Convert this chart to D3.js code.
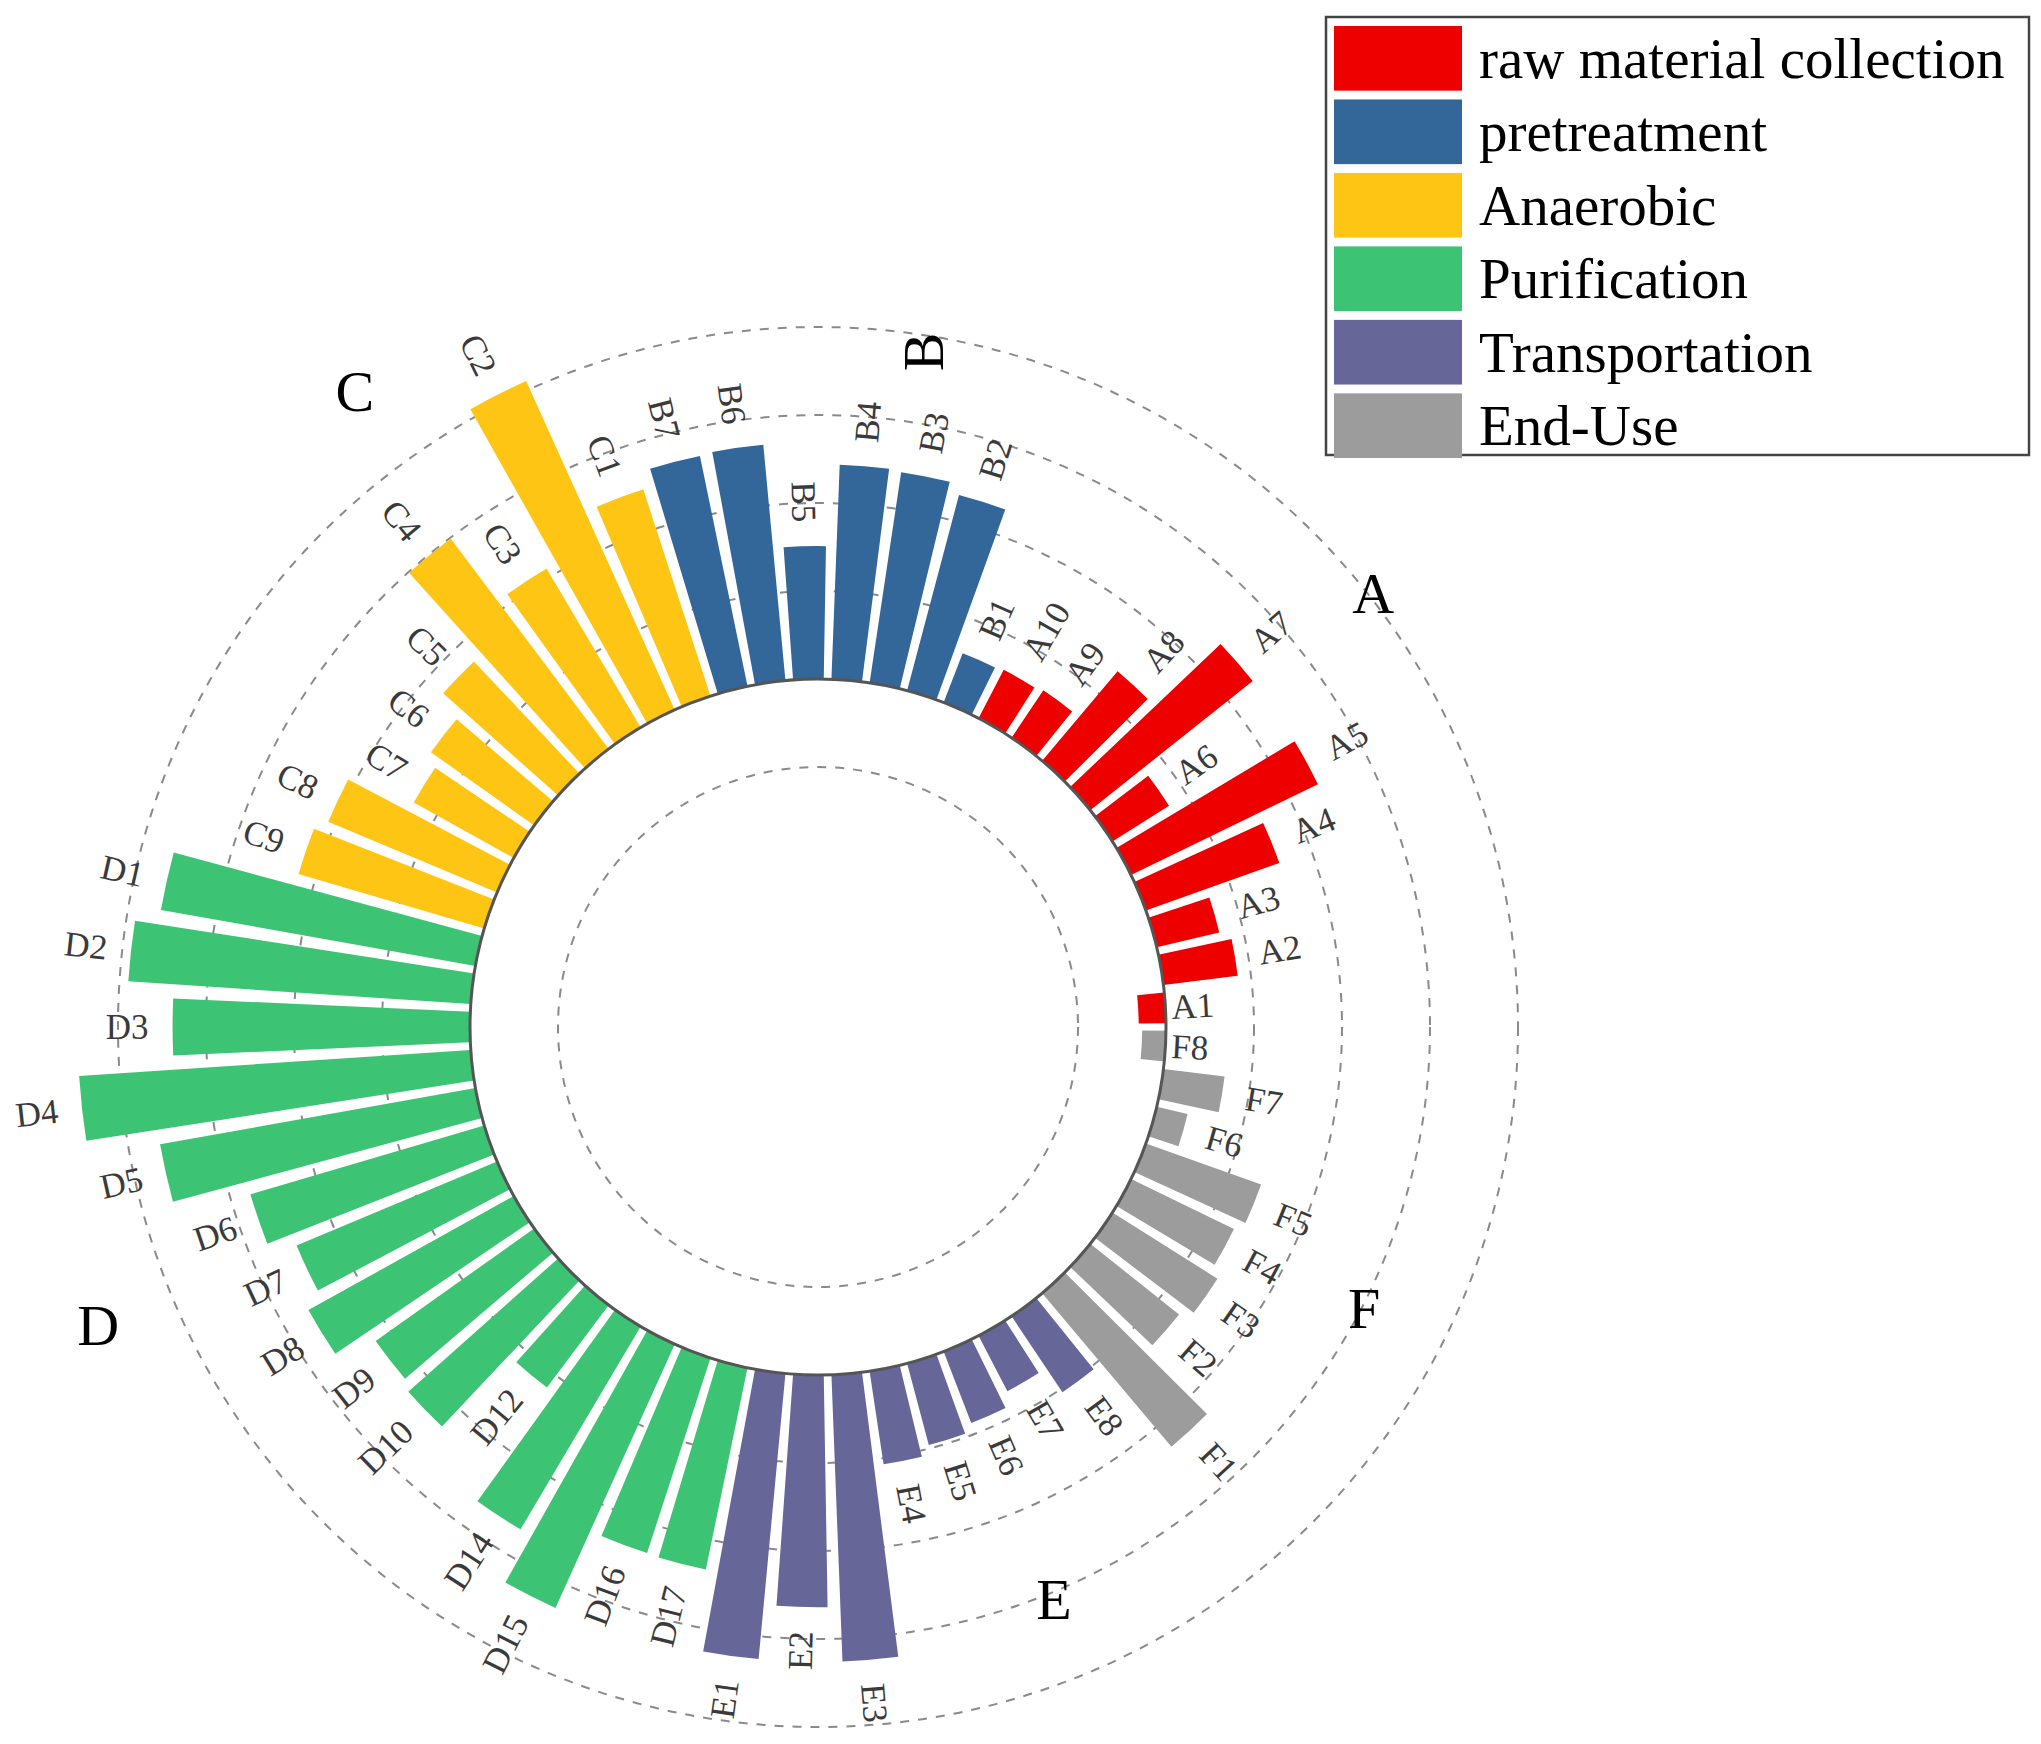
<!DOCTYPE html>
<html>
<head>
<meta charset="utf-8">
<script src="https://cdn.jsdelivr.net/npm/d3@7"></script>
<style>
	body { margin: 0; background: #fff; }
	svg text { font-family: "Liberation Serif", "Times New Roman", serif; }
</style>
</head>
<body>
<div id="chart-area"></div>
<script>
// bar names, counter-clockwise from 3 o'clock
var names = ["A1","A2","A3","A4","A5","A6","A7","A8","A9","A10",
	"B1","B2","B3","B4","B5","B6","B7",
	"C1","C2","C3","C4","C5","C6","C7","C8","C9",
	"D1","D2","D3","D4","D5","D6","D7","D8","D9","D10","D12","D14","D15","D16","D17",
	"E1","E2","E3","E4","E5","E6","E7","E8",
	"F1","F2","F3","F4","F5","F6","F7","F8"];

var values = [-0.31, 0.85, 0.73, 1.61, 2.36, 0.76, 2.36, 1.33, 0.65, 0.62,
	0.60, 2.30, 2.42, 2.44, 1.51, 2.69, 2.67,
	2.47, 4.10, 2.10, 2.99, 1.75, 1.44, 1.30, 2.08, 2.20,
	3.63, 3.90, 3.38, 4.46, 3.64, 2.77, 2.47, 2.67, 2.21, 2.28, 1.17, 2.68, 3.29, 2.33, 2.34,
	3.26, 2.64, 3.26, 1.07, 0.96, 0.87, 0.71, 1.04,
	2.28, 1.29, 1.41, 1.30, 1.39, 0.36, 0.70, -0.27];

var groups = ["A","B","C","D","E","F"];
var stages = ["raw material collection","pretreatment","Anaerobic","Purification","Transportation","End-Use"];
var colors = ["#ee0000","#336699","#fec514","#3dc374","#666699","#9c9c9c"];

var gridValues = [-1, 1, 2, 3, 4];

// where the big group letters sit (angle in degrees, radius in data units)
var groupLabelAngle = [38.0, 81.1, 126.1, 202.5, 292.4, 332.7];
var groupLabelValue = [4.05, 3.81, 4.98, 4.90, 3.08, 3.03];

var width = 2041, height = 1744;
var cx = 818, cy = 1027;

var svg = d3.select("#chart-area").append("svg")
	.attr("width", width)
	.attr("height", height);

var x = d3.scaleBand()
	.domain(names)
	.range([0, 360])
	.paddingInner(0.2)
	.paddingOuter(0.1);

var r = d3.scaleLinear()
	.domain([-1, 4])
	.range([260, 700]);

var color = d3.scaleOrdinal()
	.domain(groups)
	.range(colors);

var rad = Math.PI / 180;

var g = svg.append("g").attr("transform", "translate(" + cx + "," + cy + ")");

// dashed grid circles
g.selectAll(".grid")
	.data(gridValues)
	.enter().append("circle")
	.attr("class", "grid")
	.attr("r", d => r(d))
	.attr("fill", "none")
	.attr("stroke", "#8a8a8a")
	.attr("stroke-width", 2)
	.attr("stroke-dasharray", "9,9");

// bars (d3.arc angles run clockwise from 12 o'clock)
var arc = d3.arc()
	.innerRadius(d => r(Math.min(0, d.v)))
	.outerRadius(d => r(Math.max(0, d.v)))
	.startAngle(d => (90 - x(d.name) - x.bandwidth()) * rad)
	.endAngle(d => (90 - x(d.name)) * rad);

var data = names.map((n, i) => ({ name: n, v: values[i], group: n[0] }));

g.selectAll(".bar")
	.data(data)
	.enter().append("path")
	.attr("class", "bar")
	.attr("d", arc)
	.attr("fill", d => color(d.group));

// zero circle
g.append("circle")
	.attr("r", r(0))
	.attr("fill", "none")
	.attr("stroke", "#555")
	.attr("stroke-width", 3);

// bar labels
g.selectAll(".lab")
	.data(data)
	.enter().append("text")
	.attr("class", "lab")
	.attr("transform", d => {
		var t = x(d.name) + x.bandwidth() / 2;
		var rr = d.v < 0 ? r(0) + 6 : r(d.v) + 24;
		var px = rr * Math.cos(t * rad), py = -rr * Math.sin(t * rad);
		var flip = t > 90 && t < 270;
		return "translate(" + px + "," + py + ") rotate(" + (flip ? 180 - t : -t) + ")";
	})
	.attr("text-anchor", d => {
		var t = x(d.name) + x.bandwidth() / 2;
		return (t > 90 && t < 270) ? "end" : "start";
	})
	.attr("dominant-baseline", "central")
	.attr("font-size", 35)
	.attr("fill", "#3a3a3a")
	.text(d => d.name);

// group letters
g.selectAll(".grp")
	.data(groups)
	.enter().append("text")
	.attr("class", "grp")
	.attr("transform", (d, i) => {
		var rr = r(groupLabelValue[i]), t = groupLabelAngle[i] * rad;
		return "translate(" + (rr * Math.cos(t)) + "," + (-rr * Math.sin(t)) + ")" + (d == "B" ? " rotate(-90)" : "");
	})
	.attr("text-anchor", "middle")
	.attr("dominant-baseline", "central")
	.attr("font-size", 58)
	.attr("fill", "#000")
	.text(d => d);

// legend
var legend = svg.append("g").attr("transform", "translate(1326,17)");

legend.append("rect")
	.attr("width", 703)
	.attr("height", 438)
	.attr("fill", "#fff")
	.attr("stroke", "#444")
	.attr("stroke-width", 2.5);

var ly = d3.scaleBand()
	.domain(stages)
	.range([9, 441])
	.paddingInner(0.12);

legend.selectAll(".sw")
	.data(stages)
	.enter().append("rect")
	.attr("class", "sw")
	.attr("x", 8)
	.attr("y", d => ly(d))
	.attr("width", 128)
	.attr("height", ly.bandwidth())
	.attr("fill", (d, i) => colors[i]);

legend.selectAll(".lt")
	.data(stages)
	.enter().append("text")
	.attr("class", "lt")
	.attr("x", 153)
	.attr("y", d => ly(d) + ly.bandwidth() / 2)
	.attr("dominant-baseline", "central")
	.attr("font-size", 57)
	.attr("fill", "#000")
	.text(d => d);
</script>
</body>
</html>
